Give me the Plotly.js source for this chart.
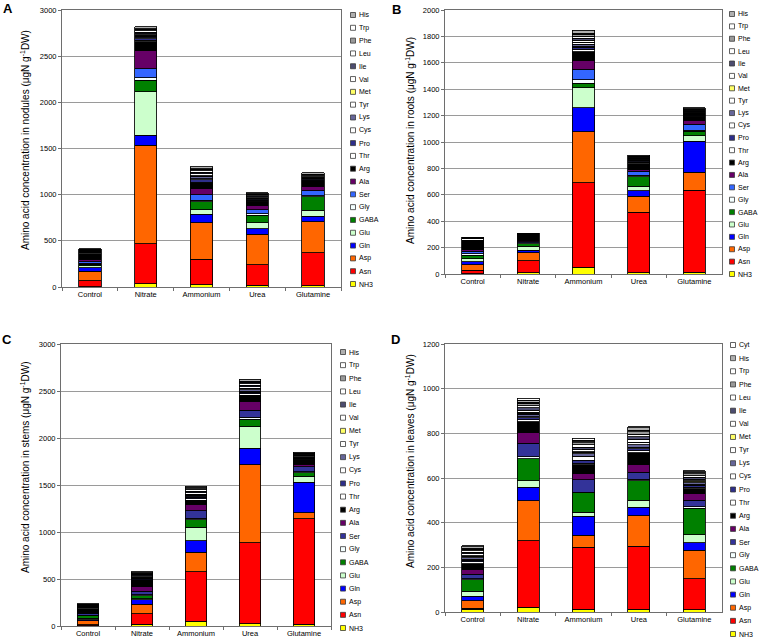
<!DOCTYPE html>
<html>
<head>
<meta charset="utf-8">
<script src="https://cdn.plot.ly/plotly-3.0.1.min.js"></script>
<style>html,body{margin:0;padding:0;background:#fff;}#chart{width:764px;height:644px;}</style>
</head>
<body>
<div id="chart"></div>
<script>
// ---------- DATA ----------
const categories = ['Control', 'Nitrate', 'Ammonium', 'Urea', 'Glutamine'];
const aminoAcids = ['NH3','Asn','Asp','Gln','Glu','GABA','Gly','Ser','Ala','Arg','Thr','Pro','Cys','Lys','Tyr','Met','Val','Ile','Leu','Phe','Trp','His'];
const aminoAcidsLeaves = ['NH3','Asn','Asp','Gln','Glu','GABA','Gly','Ser','Ala','Arg','Thr','Pro','Cys','Lys','Tyr','Met','Val','Ile','Leu','Phe','Trp','His','Cyt'];

// values per category, ordered as aminoAcids (bottom -> top)
const nodulesControl   = [5,65,100,36,25,18,8,15,30,58,10,5,3,5,3,2,5,4,5,4,3,6];
const nodulesNitrate   = [36,434,1066,108,470,126,25,101,192,98,18,15,8,20,8,5,15,14,16,14,10,20];
const nodulesAmmonium  = [25,275,394,94,51,83,18,61,61,60,15,25,8,22,10,5,18,18,15,15,8,20];
const nodulesUrea      = [18,224,329,58,65,83,18,43,47,35,10,12,5,12,6,4,10,10,9,9,4,8];
const nodulesGlutamine = [11,361,336,61,61,145,11,54,51,47,8,10,4,10,5,3,10,8,10,8,6,16];

const rootsControl   = [3,25,43,20,25,25,13,18,13,71,12,2,1,2,1,0.5,1,1,1,1,0.5,1];
const rootsNitrate   = [8,93,60,18,30,22,6,8,6,42,2,2,1,2,1,1,2,1,2,1,1,1];
const rootsAmmonium  = [50,640,386,182,154,35,23,81,68,66,18,14,8,16,10,5,16,14,16,14,8,22];
const rootsUrea      = [8,461,119,43,33,71,13,30,13,45,6,6,3,6,4,2,7,6,7,6,3,8];
const rootsGlutamine = [15,620,134,235,43,33,8,48,28,25,6,7,3,7,4,2,8,7,8,7,4,9];

const stemsControl   = [5,10,43,10,14,28,5,20,10,40,8,5,3,5,3,2,5,5,5,4,3,5];
const stemsNitrate   = [18,114,99,50,10,32,10,39,43,71,8,10,4,10,5,3,9,8,9,8,5,10];
const stemsAmmonium  = [50,529,206,121,142,85,14,78,71,43,14,16,7,15,9,4,15,14,15,14,8,17];
const stemsUrea      = [25,859,831,178,234,71,21,75,99,64,16,16,8,17,10,5,17,15,17,16,9,20];
const stemsGlutamine = [18,1122,64,323,67,36,11,53,28,43,7,9,4,9,5,2,8,8,8,8,4,9];

const leavesControl   = [12,5,33,21,22,51,6,19,22,25,8,8,4,8,5,3,8,8,7,7,4,7,4];
const leavesNitrate   = [21,298,180,60,28,99,9,60,48,48,9,10,5,10,6,3,10,10,10,10,5,10,7];
const leavesAmmonium  = [13,276,54,85,18,87,4,55,27,40,8,12,18,12,6,3,10,10,10,10,4,8,7];
const leavesUrea      = [13,282,135,40,30,88,7,31,34,52,9,11,6,12,7,4,12,12,12,11,6,10,6];
const leavesGlutamine = [10,139,127,34,37,118,7,28,30,22,7,8,4,8,5,3,8,8,8,8,4,6,3];

const yTitles = [
  'Amino acid concentration in nodules (μgN g<sup>-1</sup>DW)',
  'Amino acid concentration in roots (μgN g<sup>-1</sup>DW)',
  'Amino acid concentration in stems (μgN g<sup>-1</sup>DW)',
  'Amino acid concentration in leaves (μgN g<sup>-1</sup>DW)'
];
const panelLetters = ['A','B','C','D'];

// ---------- STYLE ----------
const W = 764, H = 644;
const FONT = 'Liberation Sans, Arial, Helvetica, sans-serif';
const baseColors = {
  NH3:'#FFFF00', Asn:'#FF0000', Asp:'#FF6600', Gln:'#0000FF', Glu:'#CCFFCC', GABA:'#008000',
  Gly:'#F4FFFF', Ser:'#3366FF', Ala:'#660066', Arg:'#000000', Thr:'#FFFFFF', Pro:'#2E2E8A',
  Cys:'#FFFFFF', Lys:'#666699', Tyr:'#FFFFFF', Met:'#FFFF66', Val:'#FFFFFF', Ile:'#4D4D70',
  Leu:'#FFFFFF', Phe:'#999999', Trp:'#FFFFFF', His:'#AFAFAF', Cyt:'#FFFFFF'
};
function colorFor(name, p) {
  if (name === 'Ser' && p >= 2) return '#333399';
  return baseColors[name];
}

const panels = [
  { names: aminoAcids, cols: [nodulesControl, nodulesNitrate, nodulesAmmonium, nodulesUrea, nodulesGlutamine],
    px: [62, 341], py: [10, 287], range: [0, 3000], dtick: 500,
    legX: 353, legTop: 15, legBot: 284, titleX: 25, titleY: 140, letter: [8, 8] },
  { names: aminoAcids, cols: [rootsControl, rootsNitrate, rootsAmmonium, rootsUrea, rootsGlutamine],
    px: [445, 722], py: [10, 274], range: [0, 2000], dtick: 200,
    legX: 732, legTop: 14, legBot: 274, titleX: 410, titleY: 141, letter: [396, 9] },
  { names: aminoAcids, cols: [stemsControl, stemsNitrate, stemsAmmonium, stemsUrea, stemsGlutamine],
    px: [61, 331], py: [344, 626], range: [0, 3000], dtick: 500,
    legX: 343, legTop: 352, legBot: 628, titleX: 25, titleY: 467, letter: [7, 339] },
  { names: aminoAcidsLeaves, cols: [leavesControl, leavesNitrate, leavesAmmonium, leavesUrea, leavesGlutamine],
    px: [445, 722], py: [344, 612], range: [0, 1200], dtick: 200,
    legX: 733, legTop: 345, legBot: 634, titleX: 410, titleY: 461, letter: [395, 339] }
];

const traces = [];
const layout = {
  width: W, height: H,
  margin: {l: 0, r: 0, t: 0, b: 0},
  paper_bgcolor: '#fff', plot_bgcolor: '#fff',
  barmode: 'stack', bargap: 0.6,
  showlegend: false,
  font: {family: FONT, color: '#000', size: 8},
  shapes: [], annotations: []
};

panels.forEach((P, p) => {
  const suf = p === 0 ? '' : String(p + 1);
  P.names.forEach((name, i) => {
    traces.push({
      type: 'bar', name: name,
      x: categories,
      y: P.cols.map(col => col[i]),
      xaxis: 'x' + suf, yaxis: 'y' + suf,
      marker: {color: colorFor(name, p), line: {color: '#000', width: 0.85}},
      hovertemplate: name + ': %{y}<extra></extra>'
    });
  });

  layout['xaxis' + suf] = {
    domain: [P.px[0] / W, P.px[1] / W], anchor: 'y' + suf,
    showline: true, mirror: true, linecolor: '#6e6e6e', linewidth: 1,
    ticks: 'outside', tickson: 'boundaries', ticklen: 3, tickcolor: '#6e6e6e',
    showgrid: false, zeroline: false,
    tickfont: {family: FONT, size: 7.5, color: '#000'},
    fixedrange: true
  };
  layout['yaxis' + suf] = {
    domain: [1 - P.py[1] / H, 1 - P.py[0] / H], anchor: 'x' + suf,
    range: P.range, dtick: P.dtick, tick0: 0,
    showline: true, mirror: true, linecolor: '#6e6e6e', linewidth: 1,
    ticks: 'outside', ticklen: 3, tickcolor: '#6e6e6e',
    showgrid: true, gridcolor: '#9a9a9a', gridwidth: 1, zeroline: false,
    tickfont: {family: FONT, size: 7.5, color: '#000'},
    fixedrange: true
  };

  // y axis title
  layout.annotations.push({
    xref: 'paper', yref: 'paper', x: P.titleX / W, y: 1 - P.titleY / H,
    text: yTitles[p], textangle: -90, showarrow: false,
    xanchor: 'center', yanchor: 'middle',
    font: {family: FONT, size: 10, color: '#000'}
  });
  // panel letter
  layout.annotations.push({
    xref: 'paper', yref: 'paper', x: P.letter[0] / W, y: 1 - P.letter[1] / H,
    text: '<b>' + panelLetters[p] + '</b>', showarrow: false,
    xanchor: 'center', yanchor: 'middle',
    font: {family: FONT, size: 13, color: '#000'}
  });

  // legend (drawn manually to get the compact spacing)
  const n = P.names.length;
  const step = (P.legBot - P.legTop) / (n - 1);
  P.names.forEach((name, i) => {
    const cy = P.legBot - i * step;
    const s = 2.5;
    layout.shapes.push({
      type: 'rect', xref: 'paper', yref: 'paper',
      x0: (P.legX - s) / W, x1: (P.legX + s) / W,
      y0: 1 - (cy + s) / H, y1: 1 - (cy - s) / H,
      fillcolor: colorFor(name, p), line: {color: '#3a3a3a', width: 0.8}
    });
    layout.annotations.push({
      xref: 'paper', yref: 'paper', x: (P.legX + 3.5) / W, y: 1 - cy / H,
      text: name, showarrow: false, xanchor: 'left', yanchor: 'middle',
      font: {family: FONT, size: 7, color: '#000'}
    });
  });
});

Plotly.newPlot('chart', traces, layout, {displayModeBar: false, staticPlot: true});
</script>
</body>
</html>
